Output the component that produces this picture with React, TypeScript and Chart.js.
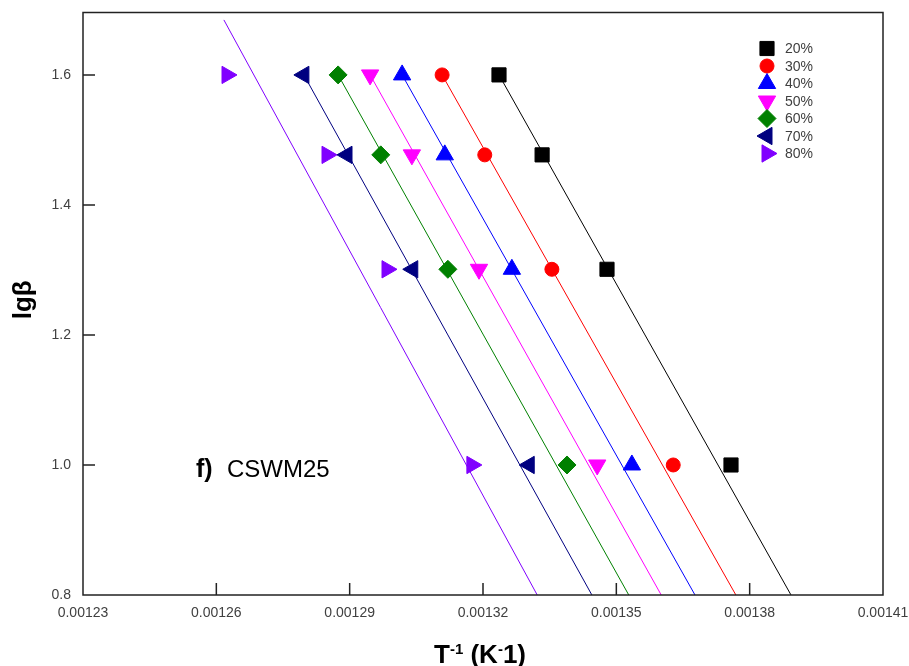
import React, { useEffect, useRef } from "react";
import { Chart, registerables } from "chart.js";

Chart.register(...registerables);

// ---------- data ----------
const seriesLabels = ["20%", "30%", "40%", "50%", "60%", "70%", "80%"];
const seriesColors = ["#000000", "#ff0000", "#0000ff", "#ff00ff", "#008000", "#000080", "#8000ff"];
const pointStyles = ["rect", "circle", "triangle", "triangle", "rectRot", "triangle", "triangle"];
const pointRotations = [0, 0, 0, 180, 0, 270, 90];
const pointRadii = [10, 7, 10, 10, 9, 10, 10];

const lgBeta = [1.6, 1.477, 1.301, 1.0];
const invT20 = [0.0013236, 0.0013333, 0.0013479, 0.0013758];
const invT30 = [0.0013108, 0.0013204, 0.0013355, 0.0013628];
const invT40 = [0.0013018, 0.0013114, 0.0013265, 0.0013535];
const invT50 = [0.0012946, 0.001304, 0.0013191, 0.0013457];
const invT60 = [0.0012874, 0.001297, 0.0013121, 0.0013389];
const invT70 = [0.0012797, 0.0012894, 0.0013042, 0.0013304];
const invT80 = [0.0012624, 0.0012849, 0.0012984, 0.0013175];
const invTSeries = [invT20, invT30, invT40, invT50, invT60, invT70, invT80];

// fitted straight lines (start / end points)
const fitX1 = [0.0013236, 0.0013108, 0.0013018, 0.0012946, 0.0012874, 0.0012797, 0.0012617];
const fitY1 = [1.6, 1.6, 1.6, 1.6, 1.6, 1.6, 1.6846];
const fitX2 = [0.0013893, 0.0013769, 0.0013677, 0.0013601, 0.0013528, 0.0013445, 0.0013322];
const fitY2 = [0.8, 0.8, 0.8, 0.8, 0.8, 0.8, 0.8];

const xTicks = [0.00123, 0.00126, 0.00129, 0.00132, 0.00135, 0.00138, 0.00141];
const yTicks = [0.8, 1.0, 1.2, 1.4, 1.6];
const xMin = 0.00123;
const xMax = 0.00141;
const yMin = 0.8;
const yMax = 1.696;

const annotationBold = "f)";
const annotationText = "CSWM25";
const yTitle = "lgβ";

const FONT = "Arial, 'Liberation Sans', sans-serif";

function drawMarker(ctx: CanvasRenderingContext2D, style: string, rotation: number, r: number, x: number, y: number, color: string) {
  ctx.save();
  ctx.fillStyle = color;
  ctx.strokeStyle = color;
  ctx.lineWidth = 1;
  ctx.beginPath();
  let rad = (rotation * Math.PI) / 180;
  if (style === "rect") {
    const s = Math.SQRT1_2 * r;
    ctx.rect(x - s, y - s, 2 * s, 2 * s);
  } else if (style === "circle") {
    ctx.arc(x, y, r, 0, Math.PI * 2);
  } else if (style === "rectRot") {
    ctx.moveTo(x - r, y);
    ctx.lineTo(x, y - r);
    ctx.lineTo(x + r, y);
    ctx.lineTo(x, y + r);
    ctx.closePath();
  } else if (style === "triangle") {
    ctx.moveTo(x + Math.sin(rad) * r, y - Math.cos(rad) * r);
    rad += (2 * Math.PI) / 3;
    ctx.lineTo(x + Math.sin(rad) * r, y - Math.cos(rad) * r);
    rad += (2 * Math.PI) / 3;
    ctx.lineTo(x + Math.sin(rad) * r, y - Math.cos(rad) * r);
    ctx.closePath();
  }
  ctx.fill();
  ctx.stroke();
  ctx.restore();
}

const zeroPad = (s: any) => {
  s.paddingLeft = 0;
  s.paddingRight = 0;
  s.paddingTop = 0;
  s.paddingBottom = 0;
};

const decorPlugin = {
  id: "decor",
  afterDatasetsDraw(chart: any) {
    const { ctx, chartArea } = chart;
    const xs = chart.scales.x;
    const ys = chart.scales.y;
    ctx.save();
    // frame
    ctx.strokeStyle = "#222";
    ctx.lineWidth = 1.5;
    ctx.strokeRect(chartArea.left, chartArea.top, chartArea.right - chartArea.left, chartArea.bottom - chartArea.top);
    // inward ticks
    ctx.beginPath();
    xTicks.forEach((v, i) => {
      if (i === 0 || i === xTicks.length - 1) return;
      const px = xs.getPixelForValue(v);
      ctx.moveTo(px, chartArea.bottom);
      ctx.lineTo(px, chartArea.bottom - 12);
    });
    yTicks.forEach((v, i) => {
      if (i === 0) return;
      const py = ys.getPixelForValue(v);
      ctx.moveTo(chartArea.left, py);
      ctx.lineTo(chartArea.left + 12, py);
    });
    ctx.stroke();

    // legend
    const lx = 767;
    const ly0 = 48.5;
    const step = 17.5;
    seriesLabels.forEach((lab, i) => {
      const y = ly0 + i * step;
      drawMarker(ctx, pointStyles[i], pointRotations[i], pointRadii[i], lx, y, seriesColors[i]);
      ctx.fillStyle = "#404040";
      ctx.font = `14px ${FONT}`;
      ctx.textAlign = "left";
      ctx.textBaseline = "middle";
      ctx.fillText(lab, 785, y + 1);
    });

    // annotation
    ctx.fillStyle = "#000";
    ctx.textBaseline = "alphabetic";
    ctx.textAlign = "left";
    ctx.font = `bold 25px ${FONT}`;
    ctx.fillText(annotationBold, 196, 477);
    ctx.font = `24px ${FONT}`;
    ctx.fillText(annotationText, 227, 477);

    // x title with superscripts
    const parts: [string, boolean][] = [
      ["T", false],
      ["-1", true],
      [" (K", false],
      ["-", true],
      ["1)", false],
    ];
    const big = `bold 26px ${FONT}`;
    const small = `bold 15px ${FONT}`;
    let total = 0;
    parts.forEach(([t, sup]) => {
      ctx.font = sup ? small : big;
      total += ctx.measureText(t).width;
    });
    let cx = (chartArea.left + chartArea.right) / 2 - total / 2 - 3;
    const base = 663;
    parts.forEach(([t, sup]) => {
      ctx.font = sup ? small : big;
      ctx.fillText(t, cx, sup ? base - 9 : base);
      cx += ctx.measureText(t).width;
    });

    // y title
    ctx.save();
    ctx.translate(31, (chartArea.top + chartArea.bottom) / 2 - 4);
    ctx.rotate(-Math.PI / 2);
    ctx.font = big;
    ctx.textAlign = "center";
    ctx.textBaseline = "alphabetic";
    ctx.fillText(yTitle, 0, 0);
    ctx.restore();

    ctx.restore();
  },
};

export default function App() {
  const canvasRef = useRef<HTMLCanvasElement | null>(null);

  useEffect(() => {
    const canvas = canvasRef.current;
    if (!canvas) return;

    const lineSets = seriesLabels.map((lab, i) => ({
      label: lab + " fit",
      data: [
        { x: fitX1[i], y: fitY1[i] },
        { x: fitX2[i], y: fitY2[i] },
      ],
      showLine: true,
      borderColor: seriesColors[i],
      borderWidth: 1,
      pointRadius: 0,
      order: 1,
    }));
    const pointSets = seriesLabels.map((lab, i) => ({
      label: lab,
      data: invTSeries[i].map((x, k) => ({ x, y: lgBeta[k] })),
      showLine: false,
      backgroundColor: seriesColors[i],
      borderColor: seriesColors[i],
      borderWidth: 1,
      pointStyle: pointStyles[i],
      rotation: pointRotations[i],
      pointRadius: pointRadii[i],
      order: 0,
    }));

    const chart = new Chart(canvas, {
      type: "scatter",
      data: { datasets: [...pointSets, ...lineSets] as any },
      options: {
        animation: false,
        responsive: false,
        devicePixelRatio: 1,
        layout: { padding: { top: 12.5, right: 26, bottom: 0, left: 0 } },
        plugins: { legend: { display: false }, tooltip: { enabled: false } },
        scales: {
          x: {
            type: "linear",
            min: xMin,
            max: xMax,
            afterBuildTicks: (s: any) => {
              s.ticks = xTicks.map((v) => ({ value: v }));
            },
            afterFit: (s: any) => {
              s.height = 71;
              zeroPad(s);
            },
            ticks: {
              autoSkip: false,
              maxRotation: 0,
              padding: 10,
              color: "#404040",
              font: { family: FONT, size: 14 },
              callback: (v: any) => Number(v).toFixed(5),
            },
            grid: { display: false, drawTicks: false },
            border: { display: false },
          },
          y: {
            type: "linear",
            min: yMin,
            max: yMax,
            afterBuildTicks: (s: any) => {
              s.ticks = yTicks.map((v) => ({ value: v }));
            },
            afterFit: (s: any) => {
              s.width = 83;
              zeroPad(s);
            },
            ticks: {
              padding: 12,
              color: "#404040",
              font: { family: FONT, size: 14 },
              callback: (v: any) => Number(v).toFixed(1),
            },
            grid: { display: false, drawTicks: false },
            border: { display: false },
          },
        },
      },
      plugins: [decorPlugin],
    });

    return () => chart.destroy();
  }, []);

  return (
    <div style={{ position: "absolute", left: 0, top: 0, width: 909, height: 666, background: "#fff" }}>
      <canvas ref={canvasRef} width={909} height={666} style={{ display: "block" }} />
    </div>
  );
}
